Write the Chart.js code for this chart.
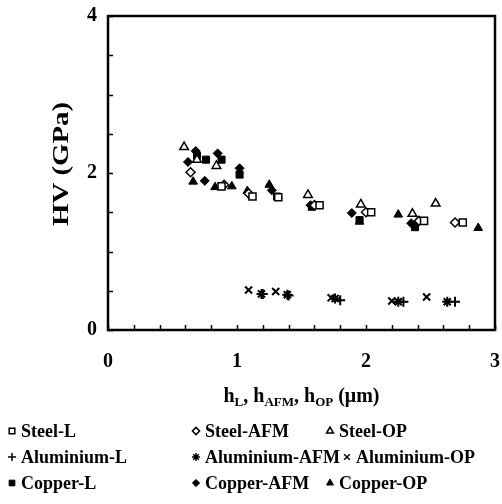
<!DOCTYPE html>
<html>
<head>
<meta charset="utf-8">
<script src="https://cdn.jsdelivr.net/npm/chart.js@4.4.1/dist/chart.umd.min.js"></script>
<style>
  html, body { margin: 0; padding: 0; background: #fff; }
  canvas { display: block; }
</style>
</head>
<body>
<canvas id="c" width="502" height="504"></canvas>
<script>
  // ---- data ---------------------------------------------------------
  const steelLX   = [0.88, 1.12, 1.32, 1.64, 2.04, 2.45, 2.75];
  const steelLY   = [1.83, 1.70, 1.69, 1.59, 1.50, 1.39, 1.37];
  const steelAfmX = [0.64, 0.90, 1.09, 1.60, 2.00, 2.41, 2.69];
  const steelAfmY = [2.01, 1.85, 1.74, 1.59, 1.50, 1.39, 1.37];
  const steelOpX  = [0.59, 0.69, 0.84, 1.55, 1.96, 2.36, 2.54];
  const steelOpY  = [2.33, 2.17, 2.09, 1.72, 1.60, 1.48, 1.61];

  const alLX   = [1.20, 1.40, 1.80, 2.29, 2.69];
  const alLY   = [0.46, 0.44, 0.38, 0.36, 0.36];
  const alAfmX = [1.19, 1.39, 1.76, 2.25, 2.63];
  const alAfmY = [0.46, 0.45, 0.40, 0.36, 0.36];
  const alOpX  = [1.09, 1.30, 1.73, 2.20, 2.47];
  const alOpY  = [0.51, 0.49, 0.41, 0.37, 0.42];

  const cuLX   = [0.69, 0.76, 0.88, 1.02, 1.31, 1.58, 1.95, 2.38];
  const cuLY   = [2.22, 2.17, 2.17, 1.98, 1.70, 1.57, 1.40, 1.31];
  const cuAfmX = [0.62, 0.68, 0.75, 0.85, 1.02, 1.27, 1.57, 1.89, 2.35];
  const cuAfmY = [2.14, 2.28, 1.90, 2.25, 2.06, 1.78, 1.59, 1.49, 1.36];
  const cuOpX  = [0.66, 0.83, 0.96, 1.08, 1.25, 1.95, 2.25, 2.87];
  const cuOpY  = [1.89, 1.82, 1.83, 1.77, 1.85, 1.38, 1.47, 1.30];

  const seriesLabels = ['Steel-L', 'Steel-AFM', 'Steel-OP',
                        'Aluminium-L', 'Aluminium-AFM', 'Aluminium-OP',
                        'Copper-L', 'Copper-AFM', 'Copper-OP'];
  const yTitle = 'HV (GPa)';
  // x title pieces: [text, isSubscript]
  const xTitleParts = [['h', 0], ['L', 1], [', h', 0], ['AFM', 1], [', h', 0], ['OP', 1], [' (\u03bcm)', 0]];

  // ---- marker styles --------------------------------------------------
  const FONT = '"Liberation Serif", "Times New Roman", serif';
  const hollow = (style, r) => ({ pointStyle: style, pointRadius: r, backgroundColor: '#fff', borderColor: '#000', pointBorderWidth: 1.5 });
  const filled = (style, r) => ({ pointStyle: style, pointRadius: r, backgroundColor: '#000', borderColor: '#000', pointBorderWidth: 1 });
  const stroke = (style, r) => ({ pointStyle: style, pointRadius: r, backgroundColor: '#000', borderColor: '#000', pointBorderWidth: 2 });
  const styles = [
    hollow('rect', 5), hollow('rectRot', 4.5), hollow('triangle', 5),
    stroke('cross', 5), stroke('star', 5), stroke('crossRot', 5),
    filled('rect', 5), filled('rectRot', 4.5), filled('triangle', 5),
  ];
  const xs = [steelLX, steelAfmX, steelOpX, alLX, alAfmX, alOpX, cuLX, cuAfmX, cuOpX];
  const ys = [steelLY, steelAfmY, steelOpY, alLY, alAfmY, alOpY, cuLY, cuAfmY, cuOpY];

  const datasets = seriesLabels.map((label, i) => Object.assign({
    label,
    data: xs[i].map((x, j) => ({ x, y: ys[i][j] })),
    pointHoverRadius: styles[i].pointRadius,
  }, styles[i]));

  // ---- plugins ------------------------------------------------------

  // box frame + short inward tick marks
  const frameTicks = {
    id: 'frameTicks',
    afterDraw(chart) {
      const { ctx, chartArea: a, scales } = chart;
      ctx.save();
      ctx.strokeStyle = '#000';
      ctx.lineWidth = 1.5;
      ctx.beginPath();
      for (const t of scales.x.ticks) {
        const px = Math.round(scales.x.getPixelForValue(t.value)) + 0.5;
        ctx.moveTo(px, a.bottom);
        ctx.lineTo(px, a.bottom - 5);
      }
      for (const t of scales.y.ticks) {
        const py = Math.round(scales.y.getPixelForValue(t.value)) + 0.5;
        ctx.moveTo(a.left, py);
        ctx.lineTo(a.left + 5, py);
      }
      ctx.stroke();
      ctx.lineWidth = 2.5;
      ctx.strokeRect(a.left, a.top, a.right - a.left, a.bottom - a.top);
      ctx.restore();
    },
  };

  // axis titles (x title needs subscripts)
  const axisTitles = {
    id: 'axisTitles',
    afterDraw(chart) {
      const { ctx, chartArea: a } = chart;
      ctx.save();
      ctx.fillStyle = '#000';
      ctx.textBaseline = 'alphabetic';
      const big = 'bold 20px ' + FONT, small = 'bold 13px ' + FONT;
      let w = 0;
      for (const [s, sub] of xTitleParts) { ctx.font = sub ? small : big; w += ctx.measureText(s).width; }
      let x = (a.left + a.right) / 2 - w / 2;
      const base = 402;
      ctx.textAlign = 'left';
      for (const [s, sub] of xTitleParts) {
        ctx.font = sub ? small : big;
        ctx.fillText(s, x, sub ? base + 4 : base);
        x += ctx.measureText(s).width;
      }
      // y title: the original's face is wider than Liberation Serif, so stretch a bit
      ctx.translate(62, 164);
      ctx.rotate(-Math.PI / 2);
      ctx.scale(1.2, 1);
      ctx.font = 'bold 24px ' + FONT;
      ctx.textAlign = 'center';
      ctx.textBaseline = 'middle';
      ctx.fillText(yTitle, 0, 0);
      ctx.restore();
    },
  };

  // 3 x 3 legend under the plot (row 2 of column 3 sits further right,
  // pushed by the long "Aluminium-AFM" entry as in the original)
  const gridLegend = {
    id: 'gridLegend',
    afterDraw(chart) {
      const { ctx } = chart;
      const markX = [12, 196, 330], rowY = [431, 457, 483];
      ctx.save();
      ctx.font = 'bold 18px ' + FONT;
      ctx.textBaseline = 'middle';
      ctx.textAlign = 'left';
      chart.data.datasets.forEach((ds, i) => {
        const r = Math.floor(i / 3), c = i % 3;
        const mx = (r === 1 && c === 2) ? 347 : markX[c];
        ctx.fillStyle = ds.backgroundColor;
        ctx.strokeStyle = ds.borderColor;
        ctx.lineWidth = Math.min(ds.pointBorderWidth, 1.5);
        Chart.helpers.drawPoint(ctx, { pointStyle: ds.pointStyle, radius: ds.pointRadius * 0.8, borderWidth: ctx.lineWidth, rotation: 0 }, mx, rowY[r]);
        ctx.fillStyle = '#000';
        ctx.fillText(ds.label, mx + 9, rowY[r] + 1);
      });
      ctx.restore();
    },
  };

  Chart.defaults.font.family = FONT;
  Chart.defaults.font.weight = 'bold';
  Chart.defaults.color = '#000';

  new Chart(document.getElementById('c'), {
    type: 'scatter',
    data: { datasets },
    options: {
      responsive: false,
      animation: false,
      events: [],
      layout: { padding: { top: 16, right: 4, left: 0, bottom: 0 } },
      plugins: { legend: { display: false }, tooltip: { enabled: false } },
      scales: {
        x: {
          type: 'linear', min: 0, max: 3,
          grid: { display: false, drawTicks: false },
          border: { display: false },
          ticks: {
            stepSize: 0.2, autoSkip: false, maxRotation: 0, padding: 20,
            font: { size: 20, weight: 'bold' },
            callback: v => Math.abs(v - Math.round(v)) < 1e-6 ? String(Math.round(v)) : '',
          },
          afterFit(s) { s.height = 174; s.paddingLeft = 0; s.paddingRight = 0; },
        },
        y: {
          type: 'linear', min: 0, max: 4,
          grid: { display: false, drawTicks: false },
          border: { display: false },
          ticks: {
            stepSize: 0.5, autoSkip: false, padding: 11,
            font: { size: 20, weight: 'bold' },
            callback: v => Math.abs(v % 2) < 1e-6 ? String(v) : '',
          },
          afterFit(s) { s.width = 108; s.paddingTop = 0; s.paddingBottom = 0; },
        },
      },
    },
    plugins: [frameTicks, axisTitles, gridLegend],
  });
</script>
</body>
</html>
